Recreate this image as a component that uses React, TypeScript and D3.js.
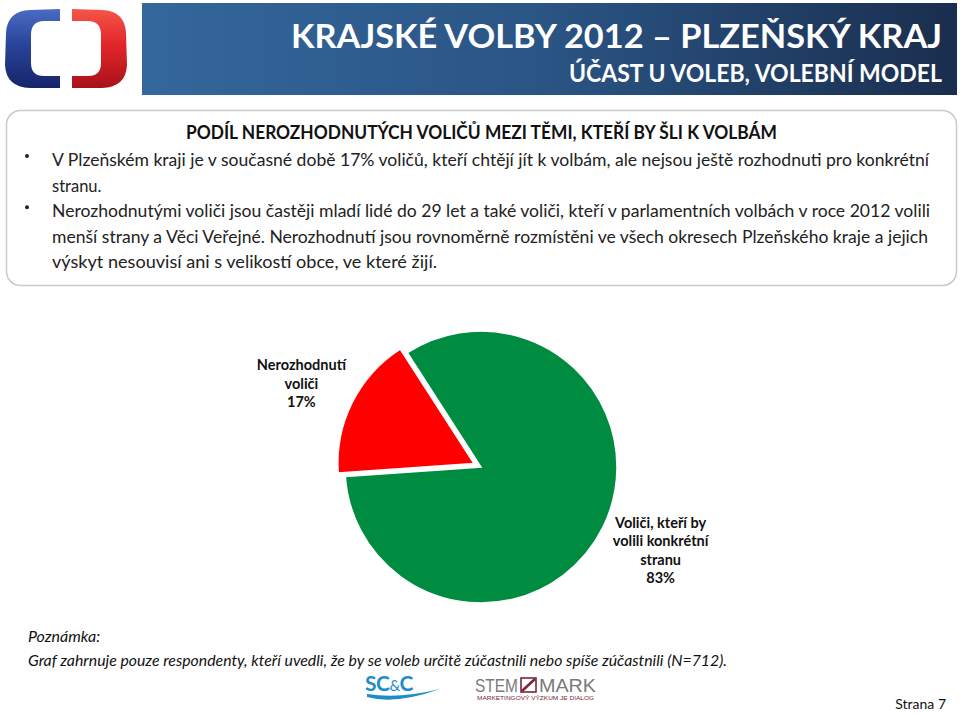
import React from "react";
import * as d3 from "d3";

// ---------- data ----------
const categories = ["Nerozhodnutí voliči", "Voliči, kteří by volili konkrétní stranu"];
const values = [17, 83];
const valueLabels = ["17%", "83%"];
const labelLines = [
  ["Nerozhodnutí", "voliči"],
  ["Voliči, kteří by", "volili konkrétní", "stranu"],
];
const sliceColors = ["#FF0000", "#008C40"];
const explodeOffsets = [8, 0];

const titleText = "KRAJSKÉ VOLBY 2012 – PLZEŇSKÝ KRAJ";
const subtitleText = "ÚČAST U VOLEB, VOLEBNÍ MODEL";
const headingText = "PODÍL NEROZHODNUTÝCH VOLIČŮ MEZI TĚMI, KTEŘÍ BY ŠLI K VOLBÁM";
const bodyLines = [
  "V Plzeňském kraji je v současné době 17% voličů, kteří chtějí jít k volbám, ale nejsou ještě rozhodnuti pro konkrétní",
  "stranu.",
  "Nerozhodnutými voliči jsou častěji mladí lidé do 29 let a také voliči, kteří v parlamentních volbách v roce 2012 volili",
  "menší strany a Věci Veřejné. Nerozhodnutí jsou rovnoměrně rozmístěni ve všech okresech Plzeňského kraje a jejich",
  "výskyt nesouvisí ani s velikostí obce, ve které žijí.",
];
const bodyBullets = [true, false, true, false, false];
const bodyWidths = [877, 0, 878, 876, 385];
const noteLines = [
  "Poznámka:",
  "Graf zahrnuje pouze respondenty, kteří uvedli, že by se voleb určitě zúčastnili nebo spíše zúčastnili (N=712).",
];
const pageLabel = "Strana 7";

const FONT = "Lato, 'Open Sans', sans-serif";

export default function App() {
  const W = 960;
  const H = 714;
  const cx = 481;
  const cy = 467;
  const R = 136;

  const pie = d3
    .pie<number>()
    .sort(null)
    .startAngle((-94 * Math.PI) / 180)
    .endAngle((-94 * Math.PI) / 180 + 2 * Math.PI);
  const arcs = pie(values);
  const arc = d3.arc<d3.PieArcDatum<number>>().innerRadius(0).outerRadius(R);
  const labelR = 198;
  const labelShift = -0.03; // slight rotation of label anchors

  const lineH = 18.5;

  return (
    <div style={{ position: "absolute", left: 0, top: 0 }}>
      <svg width={W} height={H} style={{ display: "block", background: "#fff" }} fontFamily={FONT}>
        <defs>
          <linearGradient id="banner" x1="0" y1="0" x2="1" y2="0">
            <stop offset="0" stopColor="#34679C" />
            <stop offset="0.5" stopColor="#2A5484" />
            <stop offset="1" stopColor="#1A2E4E" />
          </linearGradient>
          <linearGradient id="ctBlue" x1="0" y1="0" x2="0" y2="1">
            <stop offset="0" stopColor="#4A6CC4" />
            <stop offset="0.45" stopColor="#2A439A" />
            <stop offset="1" stopColor="#17256A" />
          </linearGradient>
          <linearGradient id="ctRed" x1="0" y1="0" x2="0" y2="1">
            <stop offset="0" stopColor="#F4564A" />
            <stop offset="0.45" stopColor="#E2262A" />
            <stop offset="1" stopColor="#A8111A" />
          </linearGradient>
        </defs>

        {/* ČT logo */}
        <path
          d="M60,9 L30,10 Q7,11 6,33 L5,65 Q6,87 30,88 L60,88 L60,76 L44,76 Q31,76 31,63 L31,35 Q31,21 44,21 L60,21 Z"
          fill="url(#ctBlue)"
        />
        <path
          transform="translate(132,0) scale(-1,1)"
          d="M60,9 L30,10 Q7,11 6,33 L5,65 Q6,87 30,88 L60,88 L60,76 L44,76 Q31,76 31,63 L31,35 Q31,21 44,21 L60,21 Z"
          fill="url(#ctRed)"
        />

        {/* banner */}
        <rect x={142} y={3} width={815} height={92} fill="url(#banner)" />
        <text
          x={942}
          y={48}
          textAnchor="end"
          fontSize={33}
          fontWeight="bold"
          fill="#fff"
          textLength={651}
          lengthAdjust="spacingAndGlyphs"
        >
          {titleText}
        </text>
        <text
          x={942}
          y={82}
          textAnchor="end"
          fontSize={24}
          fontWeight="bold"
          fill="#fff"
          textLength={373}
          lengthAdjust="spacingAndGlyphs"
        >
          {subtitleText}
        </text>

        {/* text box */}
        <rect x={6.5} y={110.5} width={950} height={175} rx={14} fill="#fff" stroke="#C9C9C9" strokeWidth={1.5} />
        <text
          x={186}
          y={139}
          fontSize={18}
          fontWeight="bold"
          fill="#111"
          textLength={591}
          lengthAdjust="spacingAndGlyphs"
        >
          {headingText}
        </text>
        {bodyLines.map((t, i) => (
          <g key={i}>
            {bodyBullets[i] && <circle cx={27} cy={160 + i * 25.6 - 4} r={2} fill="#222" />}
            <text
              x={52}
              y={166 + i * 25.6}
              fontSize={16.5}
              fill="#222"
              {...(bodyWidths[i] ? { textLength: bodyWidths[i], lengthAdjust: "spacingAndGlyphs" } : {})}
            >
              {t}
            </text>
          </g>
        ))}

        {/* pie */}
        <g transform={`translate(${cx},${cy})`}>
          {arcs.map((a, i) => {
            const mid = (a.startAngle + a.endAngle) / 2;
            const dx = Math.sin(mid) * explodeOffsets[i];
            const dy = -Math.cos(mid) * explodeOffsets[i];
            return (
              <path
                key={categories[i]}
                d={arc(a) || ""}
                transform={`translate(${dx},${dy})`}
                fill={sliceColors[i]}
                stroke="#fff"
                strokeWidth={1.5}
              />
            );
          })}
          {arcs.map((a, i) => {
            const mid = (a.startAngle + a.endAngle) / 2 + labelShift;
            const lx = Math.sin(mid) * labelR;
            const ly = -Math.cos(mid) * labelR;
            const lines = [...labelLines[i], valueLabels[i]];
            const top = ly - ((lines.length - 1) * lineH) / 2;
            return (
              <text key={"l" + i} textAnchor="middle" fontSize={14.5} fontWeight="bold" fill="#111">
                {lines.map((ln, j) => (
                  <tspan key={j} x={lx} y={top + j * lineH + 5}>
                    {ln}
                  </tspan>
                ))}
              </text>
            );
          })}
        </g>

        {/* note */}
        <text x={28} y={642} fontSize={16} fontStyle="italic" fill="#111">
          {noteLines[0]}
        </text>
        <text
          x={28}
          y={666}
          fontSize={16}
          fontStyle="italic"
          fill="#111"
          textLength={699}
          lengthAdjust="spacingAndGlyphs"
        >
          {noteLines[1]}
        </text>

        {/* SC&C logo */}
        <text x={365} y={691} fontSize={21} fontWeight="bold" fill="#1E8BCB" letterSpacing={-0.5}>
          SC<tspan fontSize={15} fontWeight="normal">&amp;</tspan>C
        </text>
        <path d="M367,697 Q395,705 440,689 Q400,699 367,694 Z" fill="#1E8BCB" />

        {/* STEM/MARK logo */}
        <text
          x={475}
          y={692}
          fontSize={18}
          fill="#7A7A7A"
          fontFamily="'Liberation Sans', sans-serif"
          textLength={43}
          lengthAdjust="spacingAndGlyphs"
        >
          STEM
        </text>
        <rect x={521} y={678} width={15} height={14} fill="none" stroke="#7A2638" strokeWidth={1.6} />
        <path d="M522,691 L535,679" stroke="#7A2638" strokeWidth={2.5} />
        <text
          x={539}
          y={692}
          fontSize={18}
          fill="#7A7A7A"
          fontFamily="'Liberation Sans', sans-serif"
          textLength={57}
          lengthAdjust="spacingAndGlyphs"
        >
          MARK
        </text>
        <text
          x={477}
          y={700}
          fontSize={4.5}
          fill="#7A2638"
          fontFamily="'Liberation Sans', sans-serif"
          textLength={117}
          lengthAdjust="spacingAndGlyphs"
        >
          MARKETINGOVÝ VÝZKUM JE DIALOG
        </text>

        <text x={946} y={709} textAnchor="end" fontSize={14} fill="#111">
          {pageLabel}
        </text>
      </svg>
    </div>
  );
}
